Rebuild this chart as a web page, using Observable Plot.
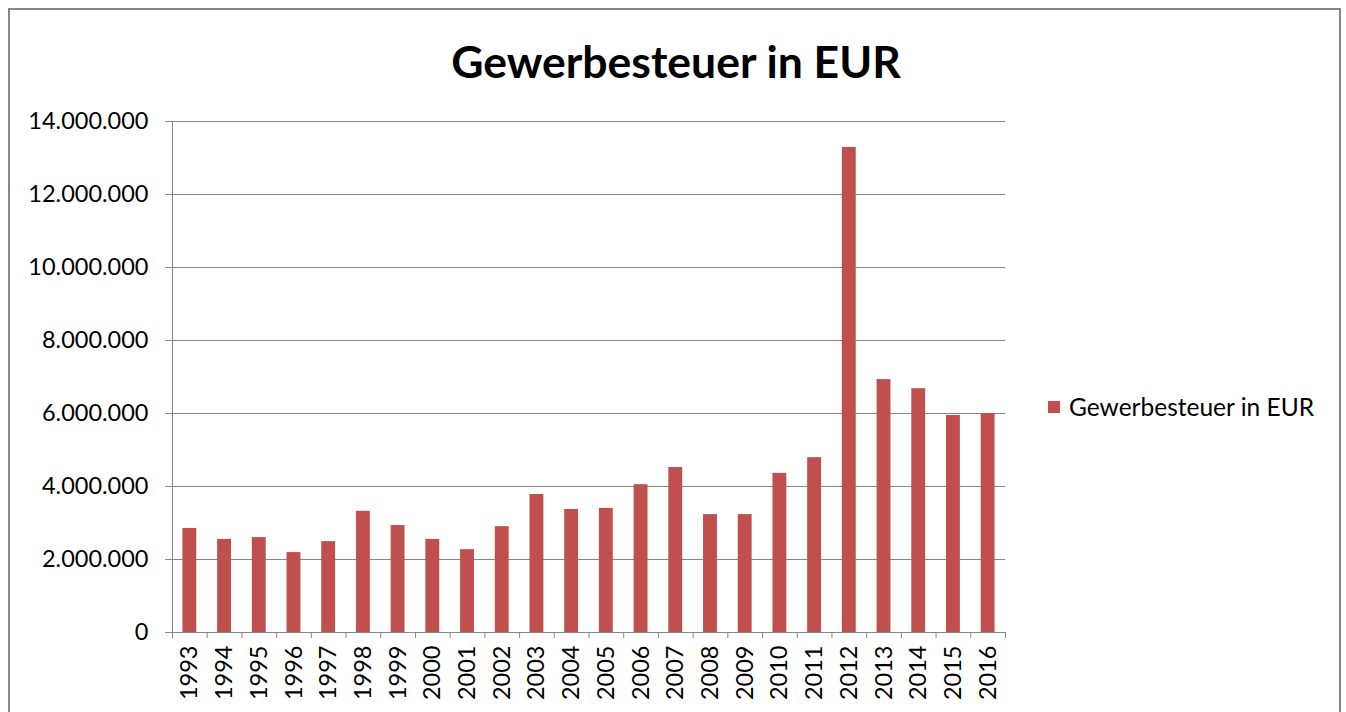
<!DOCTYPE html>
<html><head><meta charset="utf-8">
<script src="https://cdn.jsdelivr.net/npm/d3@7"></script>
<script src="https://cdn.jsdelivr.net/npm/@observablehq/plot@0.6"></script>
<style>
body{margin:0;background:#fff;overflow:hidden}
#wrap{position:relative;width:1346px;height:712px;overflow:hidden;font-family:Lato,sans-serif;background:#fff}
#frame{position:absolute;left:8px;top:8px;width:1333px;height:760px;border:2px solid #878787;box-sizing:border-box}
#title{position:absolute;left:0;width:1352px;top:34px;text-align:center;font-weight:bold;font-size:44.5px;color:#000;line-height:54px}
#legend{position:absolute;left:1048px;top:392px;font-size:24.5px;display:flex;align-items:center;color:#000;line-height:30px}
#legend .sw{width:12px;height:12px;background:#C0504D;margin-right:9px}
#chart{position:absolute;left:0;top:0}
</style></head>
<body>
<div id="wrap">
  <div id="frame"></div>
  <div id="chart"></div>
  <div id="title">Gewerbesteuer in EUR</div>
  <div id="legend"><div class="sw"></div><span>Gewerbesteuer in EUR</span></div>
</div>
<script>
const years = [1993,1994,1995,1996,1997,1998,1999,2000,2001,2002,2003,2004,2005,2006,2007,2008,2009,2010,2011,2012,2013,2014,2015,2016];
const values = [2850000,2550000,2600000,2190000,2490000,3320000,2930000,2550000,2270000,2900000,3780000,3370000,3400000,4050000,4520000,3230000,3230000,4360000,4790000,13290000,6930000,6680000,5945000,6000000];
const yTicks = [0,2000000,4000000,6000000,8000000,10000000,12000000,14000000];

const data = years.map((y,i)=>({year:String(y), value:values[i]}));
const de = d3.formatLocale({decimal:",",thousands:".",grouping:[3],currency:["","€"]});
const fmt = de.format(",");
const W=1346,H=712,ML=172,MR=341,MT=121,MB=80;
const step = (W-ML-MR)/years.length;
const grid = "#868686";

const plot = Plot.plot({
  width:W,height:H,marginLeft:ML,marginRight:MR,marginTop:MT,marginBottom:MB,
  style:{fontFamily:"Lato, sans-serif",fontSize:"23.5px",color:"#000",background:"transparent",overflow:"visible"},
  x:{type:"band",domain:years.map(String),paddingInner:0.6,paddingOuter:0.3,round:false},
  y:{domain:[0,14000000]},
  marks:[
    Plot.gridY(yTicks,{stroke:grid,strokeOpacity:1,strokeWidth:1}),
    Plot.barY(data,{x:"year",y:"value",fill:"#C0504D"}),
    Plot.ruleY([0],{stroke:grid}),
    Plot.ruleX([String(years[0])],{dx:-step/2,stroke:grid}),
    Plot.axisY(yTicks,{tickSize:7,tickPadding:17,tickFormat:fmt,stroke:grid,label:null}),
    Plot.axisX({tickSize:0,tickRotate:-90,tickPadding:13,label:null}),
    Plot.axisX(years.map(String),{tickSize:6,dx:-step/2,fill:"none",stroke:grid,label:null,tickFormat:()=>""}),
    Plot.axisX([String(years[years.length-1])],{tickSize:6,dx:step/2,fill:"none",stroke:grid,label:null,tickFormat:()=>""})
  ]
});
document.getElementById("chart").appendChild(plot);
</script>
</body></html>
